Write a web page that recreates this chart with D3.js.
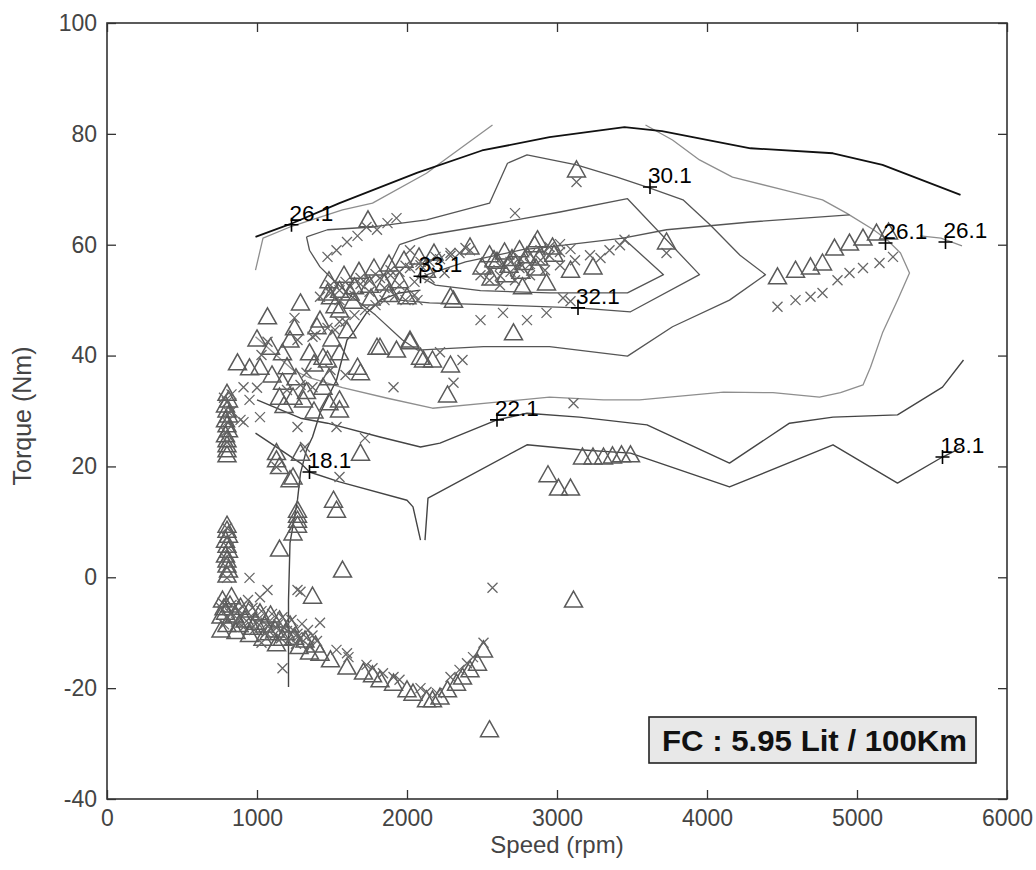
<!DOCTYPE html>
<html>
<head>
<meta charset="utf-8">
<script src="https://cdn.jsdelivr.net/npm/d3@7"></script>
<style>
body { margin: 0; background: #fff; }
svg { display: block; font-family: "Liberation Sans", Arial, sans-serif; }
</style>
</head>
<body>
<svg id="chart" width="1036" height="870"></svg>
<script>
// Axis ticks
var speedTicks = [0, 1000, 2000, 3000, 4000, 5000, 6000];
var torqueTicks = [-40, -20, 0, 20, 40, 60, 80, 100];

// Full load (max torque) curve, [rpm, Nm]
var wotCurve = [[990,61.4],[1220,63.7],[1550,67.5],[2070,73.0],[2500,77.0],[2950,79.4],[3450,81.2],[3700,80.5],[4290,77.4],[4840,76.5],[5170,74.4],[5690,69.0]];

// Efficiency contours, [rpm, Nm]
var c261a = [[990,55.4],[1040,61.2],[1220,63.2],[1570,66.3],[1770,67.5],[2130,72.9],[2220,74.7],[2570,81.6]];
var c261b = [[3590,81.6],[3770,78.9],[3950,75.3],[4170,72.2],[4510,69.9],[4770,68.1],[4930,65.7],[5110,62.7],[5200,60.9],[5290,58.5],[5350,54.9],[5270,50.0],[5170,44.1],[5090,37.9],[5040,34.7],[4890,33.3],[4750,32.5],[4440,33.3],[4110,33.4],[3550,32.0],[3310,32.0],[2950,32.5],[2600,31.6],[2170,30.5],[1870,32.3],[1570,34.2],[1350,36.0],[1240,37.4],[990,43.4]];
var c261c = [[5420,61.6],[5560,61.2],[5700,59.8]];
var c301 = [[1330,61.4],[1470,62.7],[1770,63.2],[2130,64.5],[2550,67.5],[2670,74.7],[2800,76.2],[3130,74.4],[3400,72.2],[3620,70.2],[3840,68.1],[4020,63.6],[4220,58.1],[4390,54.6],[4150,50.0],[3770,45.2],[3470,39.9],[2950,41.6],[2510,41.6],[2070,41.0],[1970,42.8],[1790,47.3],[1620,50.9],[1510,53.6],[1420,56.0],[1350,59.0],[1330,61.4]];
var c321 = [[1950,60.0],[2150,61.8],[2550,63.6],[3020,65.9],[3470,68.3],[3950,54.6],[3490,47.9],[3140,48.6],[2620,49.1],[2150,49.5],[1950,50.0],[1850,54.5],[1950,60.0]];
var c331 = [[2090,54.2],[2390,56.9],[2770,59.1],[2950,59.6],[3440,61.2],[3710,54.6],[3470,51.3],[2950,51.3],[2490,51.7],[2190,52.7],[2090,54.2]];
var c281 = [[3440,61.2],[3730,62.7],[4290,64.1],[4950,65.4]];
var c221 = [[1000,32.0],[1290,28.7],[1470,27.8],[1820,25.3],[2090,23.5],[2220,24.2],[2600,28.4],[2800,29.6],[3150,28.9],[3600,27.5],[4150,20.6],[4550,27.8],[4840,28.9],[5270,29.3],[5570,34.3],[5710,39.2]];
var c181a = [[990,26.0],[1290,20.6],[1350,19.0],[1550,17.2],[2000,13.9],[2040,12.7],[2090,6.7]];
var c181b = [[2120,6.7],[2140,14.3],[2800,23.9],[3150,23.0],[3490,22.4],[4150,16.3],[4840,23.9],[5270,17.0],[5570,21.7],[5690,23.3]];
var lowCurve = [[1210,-19.8],[1210,-4.1],[1220,6.2],[1270,14.0],[1290,18.8],[1330,23.0],[1370,25.3],[1420,29.6],[1530,35.6],[1600,42.8],[1640,44.1],[1730,47.7],[1820,50.0],[1950,51.3],[2090,51.8]];

// Contour labels
var labelText = ["26.1", "33.1", "30.1", "32.1", "22.1", "18.1", "18.1", "26.1", "26.1"];
var labelSpeed = [1230, 2090, 3620, 3140, 2600, 1350, 5570, 5190, 5590];
var labelTorque = [63.6, 54.3, 70.4, 48.6, 28.4, 19.0, 21.7, 60.3, 60.5];

// Operating points, triangles, [rpm, Nm]
var triPoints = [
  [800,33.2],[810,32.0],[790,31.1],[800,30.2],[810,29.3],[790,28.4],[800,27.5],[810,26.6],[790,25.7],[800,24.8],[800,23.9],[800,23.0],[800,22.1],
  [800,9.4],[800,8.5],[810,7.6],[790,6.7],[800,5.8],[810,4.9],[790,4.0],[800,3.1],[800,2.2],[810,1.3],[800,0.4],
  [770,-4.1],[820,-5.0],[890,-5.4],[950,-5.9],[1020,-6.4],[1090,-6.8],[1150,-7.7],[1220,-8.6],[790,-6.3],[850,-6.8],[920,-7.7],[990,-8.1],[1050,-8.6],[1120,-9.5],[1190,-10.0],[1250,-10.8],[1320,-11.3],[1390,-12.2],
  [760,-7.0],[760,-9.5],[860,-9.8],[950,-10.3],[1040,-11.0],[1130,-12.0],
  [800,-8.5],[880,-8.5],[970,-9.0],[1080,-10.0],[1170,-11.0],[1280,-12.5],[1350,-13.5],[830,-3.5],[780,-5.5],
  [1420,-13.7],[1490,-14.9],[1600,-16.2],[1710,-17.1],[1770,-17.6],[1820,-18.5],[1910,-19.1],[2000,-20.3],[2040,-20.9],[2130,-22.1],[2170,-22.1],[2220,-21.6],[2270,-20.3],[2330,-19.1],[2370,-18.0],[2420,-16.7],[2470,-15.5],[2510,-13.1],
  [1150,5.1],[1570,1.3],[1370,-3.4],[2550,-27.5],[3110,-4.1],
  [1270,12.1],[1270,11.2],[1270,10.3],[1270,9.4],[1240,8.0],
  [1510,13.9],[1530,12.1],[1690,22.4],[1130,21.2],[1130,22.5],[1150,20.0],[1240,18.1],[1290,22.4],[1220,17.6],
  [2940,18.5],[3010,16.1],[3090,16.1],
  [3170,21.7],[3240,21.7],[3310,21.7],[3370,21.9],[3430,22.1],[3490,22.1],
  [2710,44.1],[2270,32.9],
  [1820,41.5],[1930,41.0],[2020,42.5],[2110,39.2],[2170,39.2],[2290,38.3],
  [870,38.7],[950,37.8],[1020,37.9],[1090,41.5],[1150,32.5],[1240,32.5],[1310,32.0],[1350,40.5],[1440,39.7],[1550,40.5],[1170,35.2],[1440,34.3],[1550,30.2],[1550,32.0],[1670,37.9],[2090,39.7],
  [1070,47.0],[1290,49.5],[1420,46.4],[1470,51.3],[1220,42.8],[1170,40.5],[1400,45.2],[1470,39.2],[1690,36.9],[1800,41.5],
  [1000,43.0],[1100,36.5],[1200,38.0],[1260,36.0],[1330,33.5],[1380,38.5],[1480,36.0],[1500,43.0],[1600,44.5],[1250,45.0],[1180,31.0],[1380,30.0],[1480,31.5],
  [1550,48.2],[1740,64.5],[3130,73.5],[2420,59.6],[2870,60.9],[2970,59.6],[3090,55.4],[3240,56.0],[2770,52.4],[2930,53.1],[2310,50.0],[2000,50.6],[2130,55.4],[2290,50.6],[2020,42.8],
  [3730,60.5],
  [4470,54.2],[4590,55.4],[4690,56.0],[4770,56.7],[4850,59.4],[4950,60.3],[5040,61.2],[5130,62.1],[5210,62.3],
  [1550,51.8],[1650,52.4],[1750,52.7],[1850,53.1],[1950,53.5],[1490,50.6],[1620,51.3],[2550,58.2],[2650,58.7],[2750,59.1],[2850,60.0],[2600,57.0],[2700,57.5],[2800,58.0],
  [1480,53.5],[1580,54.5],[1680,55.2],[1780,55.8],[1880,56.5],[1980,57.2],[2080,57.8],[2180,58.5],[1520,49.0],[1640,49.8],[1760,50.4],[1880,51.0],
  [2500,56.0],[2580,57.3],[2680,56.3],[2780,56.8],[2880,57.6],[2980,58.3],[2560,54.0],[2660,54.6],[2760,55.2],[2860,55.8]
];

// Operating points, crosses, [rpm, Nm]
var crossPoints = [
  [800,31.6],[810,29.8],[800,28.0],[790,26.2],[800,24.4],[830,30.0],[800,8.9],[800,7.1],[810,5.3],[790,3.5],[800,1.7],[800,-0.1],[830,33.0],[780,32.4],
  [770,-4.6],[830,-5.0],[900,-5.2],[970,-5.5],[1030,-6.1],[1100,-6.6],[1170,-7.2],[1230,-7.7],[1300,-8.4],
  [800,-7.3],[870,-7.5],[930,-7.9],[1000,-8.2],[1070,-8.8],[1130,-9.1],[1200,-9.7],[1270,-10.2],[1330,-10.9],[1400,-11.5],
  [760,-5.5],[780,-8.5],[820,-6.5],[860,-8.0],[880,-6.0],[910,-9.0],[960,-7.0],[980,-9.5],[1010,-7.5],[1060,-10.0],[1080,-8.0],[1110,-10.5],[1140,-8.5],[1160,-11.0],[1180,-9.0],[1210,-11.5],[1240,-9.5],[1260,-12.0],[1290,-11.0],[1350,-12.5],[1370,-10.5],
  [950,-0.1],[1020,-3.6],[940,-4.1],[1070,-2.3],[1270,-2.3],[1290,-2.6],[1170,-16.4],[1030,-11.8],[1420,-8.2],[1340,-9.5],[1270,-10.8],
  [1530,-13.1],[1600,-13.7],[1610,-14.4],[1730,-15.8],[1770,-16.4],[1840,-17.3],[1910,-18.0],[1950,-18.5],[2090,-20.0],[2130,-20.7],[2200,-20.9],[2290,-18.0],[2350,-16.7],[2400,-15.5],[2440,-14.4],[2510,-11.8],[2570,-1.9],
  [1470,57.8],[1530,59.0],[1600,60.5],[1670,61.6],[1730,63.2],[1800,62.7],[1870,63.9],[1930,64.8],
  [1420,50.6],[1490,51.3],[1550,51.8],[1620,52.4],[1690,52.9],[1750,53.5],[1820,54.0],[1890,54.5],[1950,55.1],[2020,55.8],[2090,56.3],[2150,56.9],[2220,57.4],[2290,58.0],[2350,58.5],[2420,59.0],
  [1490,52.7],[1590,53.3],[1690,54.0],[1790,54.7],[1890,55.4],[1990,56.2],[2090,56.9],[2190,57.8],[2290,58.5],[2390,59.4],
  [1550,50.0],[1650,50.8],[1750,51.5],[1850,52.2],[1950,52.7],[2050,53.3],[2150,54.0],[2250,54.9],
  [2490,54.5],[2550,55.4],[2620,56.2],[2690,56.9],[2750,57.6],[2820,58.3],[2890,59.0],[2950,59.6],[3020,60.1],
  [2550,53.6],[2620,54.4],[2690,55.1],[2750,55.8],[2820,56.5],[2890,57.2],[2950,58.0],[3020,58.7],[3090,59.2],
  [2620,52.7],[2720,53.6],[2820,54.5],[2920,55.4],[3020,56.3],[3120,57.2],[3220,58.1],
  [3290,57.6],[3350,59.0],[3420,59.9],[3450,60.9],
  [1520,44.6],[1590,46.1],[1650,47.3],[1720,48.2],[1790,49.1],[1850,50.0],[1920,50.8],[1990,50.0],[2050,50.9],
  [910,34.3],[1000,34.2],[1020,28.9],[890,28.4],[1270,27.1],[1370,34.3],[1470,45.0],[1370,43.4],[1270,42.8],[1910,34.3],[1550,18.1],[1130,19.9],[1330,36.9],[1530,27.1],
  [1250,46.8],[1390,43.7],[1550,46.1],[1070,42.5],[2310,35.1],[2370,39.2],[910,28.0],[2070,50.0],[2490,46.4],[2640,47.7],[2800,46.4],[2930,47.7],[3110,31.4],
  [2220,40.6],[1290,34.7],[1490,37.4],[1590,36.5],[1720,25.1],[1320,23.5],[1200,33.8],[1030,40.1],[950,32.0],
  [2720,65.7],[3130,71.3],[3730,58.5],[2020,59.0],[3040,50.4],[3090,49.8],
  [4470,48.8],[4590,50.0],[4690,50.6],[4770,51.3],[4870,53.6],[4950,54.9],[5040,55.8],[5150,56.7],[5240,57.8]
];

var fcText = "FC : 5.95 Lit / 100Km";

var svg = d3.select("#chart");
var plotLeft = 107, plotRight = 1007, plotTop = 23, plotBottom = 799;

var x = d3.scaleLinear().domain([0, 6000]).range([plotLeft, plotRight]);
var y = d3.scaleLinear().domain([-40, 100]).range([plotBottom, plotTop]);

svg.append("rect")
    .attr("width", 1036)
    .attr("height", 870)
    .attr("fill", "#fff");

var line = d3.line()
    .x(function (d) { return x(d[0]); })
    .y(function (d) { return y(d[1]); });

// Contour lines
var plot = svg.append("g");

function DrawLine(pts, color, width) {
    plot.append("path")
        .attr("d", line(pts))
        .attr("fill", "none")
        .attr("stroke", color)
        .attr("stroke-width", width)
        .attr("stroke-linejoin", "round");
}

[c261a, c261b, c261c].forEach(function (p) { DrawLine(p, "#8e8e8e", 1.3); });
[c301, c321, c331, c281].forEach(function (p) { DrawLine(p, "#555", 1.3); });
[c221, c181a, c181b, lowCurve].forEach(function (p) { DrawLine(p, "#444", 1.4); });
DrawLine(wotCurve, "#111", 1.8);

// Operating points
plot.selectAll(".tri")
    .data(triPoints)
    .enter()
    .append("path")
    .attr("class", "tri")
    .attr("transform", function (d) { return "translate(" + x(d[0]) + "," + y(d[1]) + ")"; })
    .attr("d", "M0,-9L9,7L-9,7Z")
    .attr("fill", "none")
    .attr("stroke", "#5a5a5a")
    .attr("stroke-width", 1.5);

plot.selectAll(".crs")
    .data(crossPoints)
    .enter()
    .append("path")
    .attr("class", "crs")
    .attr("transform", function (d) { return "translate(" + x(d[0]) + "," + y(d[1]) + ")"; })
    .attr("d", "M-5,-5L5,5M5,-5L-5,5")
    .attr("fill", "none")
    .attr("stroke", "#666")
    .attr("stroke-width", 1.3);

// Contour labels
var labels = plot.selectAll(".lbl")
    .data(labelText)
    .enter()
    .append("g")
    .attr("class", "lbl")
    .attr("transform", function (d, i) { return "translate(" + x(labelSpeed[i]) + "," + y(labelTorque[i]) + ")"; });

labels.append("path")
    .attr("d", "M-7,0H7M0,-7V7")
    .attr("stroke", "#000")
    .attr("stroke-width", 1.6);

labels.append("text")
    .attr("x", -2)
    .attr("y", -4)
    .attr("font-size", 22.5)
    .attr("fill", "#000")
    .text(function (d) { return d; });

// Axes, ticks inward on all four sides
function StyleAxis(g) {
    g.select(".domain").remove();
    g.selectAll("line").attr("stroke", "#333").attr("stroke-width", 1.3);
    g.selectAll("text").attr("fill", "#444").attr("font-size", 23)
        .attr("font-family", "'Liberation Sans', Arial, sans-serif");
}

var fmt = function (d) { return String(d); };

svg.append("g")
    .attr("transform", "translate(0," + plotBottom + ")")
    .call(d3.axisBottom(x).tickValues(speedTicks).tickFormat(fmt).tickSizeInner(-9).tickSizeOuter(0).tickPadding(11))
    .call(StyleAxis);

svg.append("g")
    .attr("transform", "translate(0," + plotTop + ")")
    .call(d3.axisTop(x).tickValues(speedTicks).tickSizeInner(-9).tickSizeOuter(0).tickFormat(""))
    .call(StyleAxis);

svg.append("g")
    .attr("transform", "translate(" + plotLeft + ",0)")
    .call(d3.axisLeft(y).tickValues(torqueTicks).tickFormat(fmt).tickSizeInner(-9).tickSizeOuter(0).tickPadding(10))
    .call(StyleAxis);

svg.append("g")
    .attr("transform", "translate(" + plotRight + ",0)")
    .call(d3.axisRight(y).tickValues(torqueTicks).tickSizeInner(-9).tickSizeOuter(0).tickFormat(""))
    .call(StyleAxis);

svg.append("rect")
    .attr("x", plotLeft)
    .attr("y", plotTop)
    .attr("width", plotRight - plotLeft)
    .attr("height", plotBottom - plotTop)
    .attr("fill", "none")
    .attr("stroke", "#333")
    .attr("stroke-width", 1.6);

// Axis titles
svg.append("text")
    .attr("x", (plotLeft + plotRight) / 2)
    .attr("y", 853)
    .attr("text-anchor", "middle")
    .attr("font-size", 24)
    .attr("fill", "#444")
    .text("Speed (rpm)");

svg.append("text")
    .attr("transform", "translate(31," + ((plotTop + plotBottom) / 2 + 5) + ") rotate(-90)")
    .attr("text-anchor", "middle")
    .attr("font-size", 25)
    .attr("fill", "#444")
    .text("Torque (Nm)");

// Fuel consumption box
svg.append("rect")
    .attr("x", 649)
    .attr("y", 717)
    .attr("width", 327)
    .attr("height", 46)
    .attr("fill", "#e8e8e8")
    .attr("stroke", "#222")
    .attr("stroke-width", 1.6);

svg.append("text")
    .attr("x", 662)
    .attr("y", 751)
    .attr("font-size", 29)
    .attr("font-weight", "bold")
    .attr("fill", "#111")
    .attr("textLength", 305)
    .attr("lengthAdjust", "spacingAndGlyphs")
    .text(fcText);
</script>
</body>
</html>
